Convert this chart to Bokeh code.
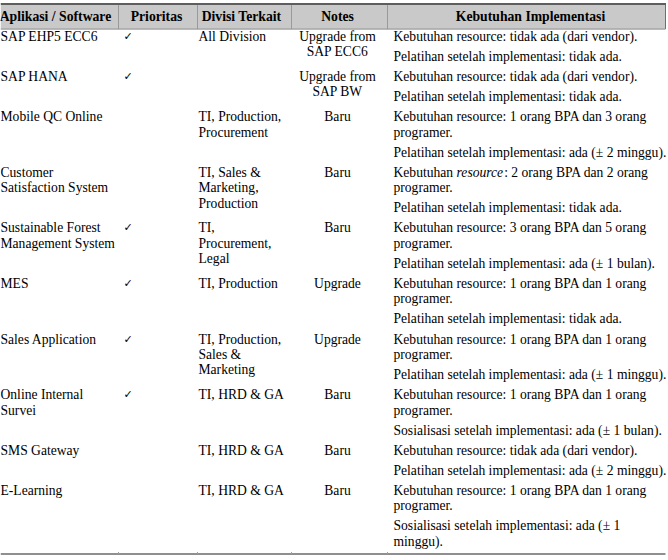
from bokeh.plotting import figure
from bokeh.models import ColumnDataSource, Range1d
from bokeh.core.properties import value
from bokeh.embed import file_html
from bokeh.resources import INLINE

# ---------------- data ----------------
headers = ["Aplikasi / Software", "Prioritas", "Divisi Terkait", "Notes", "Kebutuhan Implementasi"]
apps = ["SAP EHP5 ECC6", "SAP HANA", "Mobile QC Online", "Customer\nSatisfaction System",
        "Sustainable Forest\nManagement System", "MES", "Sales Application",
        "Online Internal\nSurvei", "SMS Gateway", "E-Learning"]
prioritas = [True, True, False, False, True, True, True, True, False, False]
divisi = ["All Division", "", "TI, Production,\nProcurement", "TI, Sales &\nMarketing,\nProduction",
          "TI,\nProcurement,\nLegal", "TI, Production", "TI, Production,\nSales &\nMarketing",
          "TI, HRD & GA", "TI, HRD & GA", "TI, HRD & GA"]
notes = ["Upgrade from\nSAP ECC6", "Upgrade from\nSAP BW", "Baru", "Baru", "Baru",
         "Upgrade", "Upgrade", "Baru", "Baru", "Baru"]
kebutuhan = [
    ["Kebutuhan resource: tidak ada (dari vendor).", "Pelatihan setelah implementasi: tidak ada."],
    ["Kebutuhan resource: tidak ada (dari vendor).", "Pelatihan setelah implementasi: tidak ada."],
    ["Kebutuhan resource: 1 orang BPA dan 3 orang\nprogramer.", "Pelatihan setelah implementasi: ada (\u00b1 2 minggu)."],
    ["Kebutuhan *resource*: 2 orang BPA dan 2 orang\nprogramer.", "Pelatihan setelah implementasi: tidak ada."],
    ["Kebutuhan resource: 3 orang BPA dan 5 orang\nprogramer.", "Pelatihan setelah implementasi: ada (\u00b1 1 bulan)."],
    ["Kebutuhan resource: 1 orang BPA dan 1 orang\nprogramer.", "Pelatihan setelah implementasi: tidak ada."],
    ["Kebutuhan resource: 1 orang BPA dan 1 orang\nprogramer.", "Pelatihan setelah implementasi: ada (\u00b1 1 minggu)."],
    ["Kebutuhan resource: 1 orang BPA dan 1 orang\nprogramer.", "Sosialisasi setelah implementasi: ada (\u00b1 1 bulan)."],
    ["Kebutuhan resource: tidak ada (dari vendor).", "Pelatihan setelah implementasi: ada (\u00b1 2 minggu)."],
    ["Kebutuhan resource: 1 orang BPA dan 1 orang\nprogramer.", "Sosialisasi setelah implementasi: ada (\u00b1 1\nminggu)."],
]

# ---------------- layout / style ----------------
W, H = 668, 560
FS_REF = 13.6
FS = f"{FS_REF:.1f}px"
FS_HEAD = "13.7px"
FONT = value("Liberation Serif")

LINE = 15.4
GAP = 4.7
Y0 = 35.7
COL_SEP = [118, 197, 291, 387]
RIGHT = 665
X_APP, X_CHECK, X_DIV, X_NOTE, X_KEB = 0, 123, 198, 337, 393
HEAD_X = [55, 156, 241, 337, 530]
HEAD_Y = 15.6

ROMAN = dict(zip(" abcdefghijklmnopqrstuvwxyzK:",
                 [250, 444, 500, 444, 500, 444, 333, 500, 500, 278, 278, 500, 278, 778, 500, 500,
                  500, 500, 333, 389, 278, 500, 500, 722, 500, 500, 444, 722, 278]))
ITAL = dict(zip(" abcdefghijklmnopqrstuvwxyz",
                [250, 500, 500, 444, 500, 444, 278, 500, 500, 278, 278, 444, 278, 722, 500, 500,
                 500, 500, 389, 389, 278, 500, 444, 667, 444, 444, 389]))


def seg_width(s, italic):
    tbl = ITAL if italic else ROMAN
    return sum(tbl.get(c, 500) for c in s) / 1000.0 * FS_REF


tx, ty, tt, ta, tst = [], [], [], [], []
cx, cy = [], []


def add(x, y, t, align="left", style="normal"):
    tx.append(x); ty.append(y); tt.append(t); ta.append(align); tst.append(style)


row_top = Y0
for i in range(len(apps)):
    heights = []
    for col_text, x, align in ((apps[i], X_APP, "left"), (divisi[i], X_DIV, "left"),
                               (notes[i], X_NOTE, "center")):
        lines = col_text.split("\n") if col_text else []
        for k, ln in enumerate(lines):
            add(x, row_top + k * LINE, ln, align)
        heights.append(max(len(lines), 1) * LINE + GAP)
    if prioritas[i]:
        cx.append(X_CHECK); cy.append(row_top)
    yy = row_top
    for para in kebutuhan[i]:
        for ln in para.split("\n"):
            xcur = X_KEB
            for j, seg in enumerate(ln.split("*")):
                if not seg:
                    continue
                it = (j % 2 == 1)
                add(xcur, yy, seg, "left", "italic" if it else "normal")
                xcur += seg_width(seg, it)
            yy += LINE
        yy += GAP
    heights.append(yy - row_top)
    row_top += max(heights)

p = figure(width=W, height=H, x_range=Range1d(0, W), y_range=Range1d(H, 0),
           output_backend="svg", toolbar_location=None, min_border=0,
           x_axis_location=None, y_axis_location=None)
p.grid.visible = False
p.outline_line_color = None
p.background_fill_color = "white"
p.border_fill_color = "white"

# header band
p.quad(left=[0], right=[RIGHT], top=[4.5], bottom=[28.5], fill_color="#c9c9c9", line_color=None)
# header separators
p.segment(x0=COL_SEP, x1=COL_SEP, y0=[4.5] * 4, y1=[28.5] * 4, line_color="#9a9a9a", line_width=1)
p.segment(x0=[RIGHT], x1=[RIGHT], y0=[3.5], y1=[28.5], line_color="#6e6e6e", line_width=1)
# top border, header bottom, table bottom
p.segment(x0=[0], x1=[RIGHT + 0.5], y0=[3.6], y1=[3.6], line_color="#5e5e5e", line_width=2)
p.segment(x0=[0], x1=[RIGHT], y0=[28.6], y1=[28.6], line_color="#8a8a8a", line_width=1)
p.segment(x0=[0], x1=[RIGHT], y0=[553.6], y1=[553.6], line_color="#6a6a6a", line_width=1.5)
p.segment(x0=COL_SEP, x1=COL_SEP, y0=[551.5] * 4, y1=[553.5] * 4, line_color="#a0a0a0", line_width=1)

# header texts
p.text(x=HEAD_X, y=[HEAD_Y] * 5, text=headers, text_font=FONT, text_font_size=FS_HEAD,
       text_font_style="bold", text_align="center", text_baseline="middle", text_color="#000000")

# body texts
src = ColumnDataSource(dict(x=tx, y=ty, text=tt, align=ta, style=tst))
p.text(x="x", y="y", text="text", source=src, text_font=FONT, text_font_size=FS,
       text_font_style="style", text_align="align", text_baseline="middle", text_color="#000000")

# check marks
p.text(x=cx, y=cy, text=["\u2713"] * len(cx), text_font=value("DejaVu Sans"),
       text_font_size="11px", text_align="left", text_baseline="middle", text_color="#000000")

open("out.html", "w").write(file_html(p, INLINE))
